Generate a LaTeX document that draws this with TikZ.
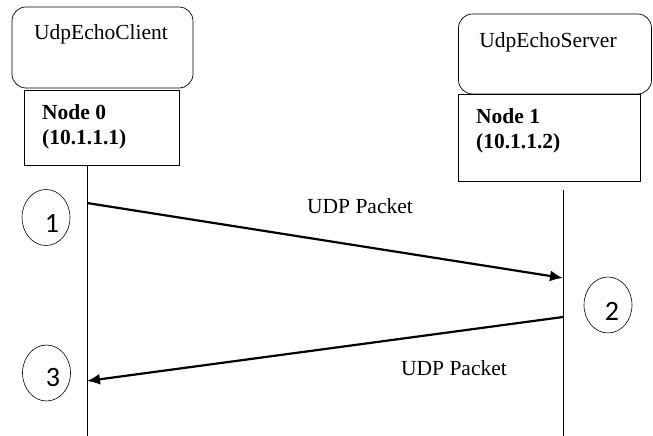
\documentclass[tikz,border=0pt]{standalone}
\usepackage{fontspec}
\setmainfont{Liberation Serif}
\newfontfamily\stepfont{Carlito}
\usetikzlibrary{arrows.meta,shapes.geometric}
\begin{document}
\begin{tikzpicture}[x=1pt,y=-1pt,
	appbox/.style={draw, line width=0.7pt, rounded corners=14pt},
	hostbox/.style={draw, line width=0.7pt},
	lbl/.style={font=\fontsize{21.5}{26}\selectfont},
	hostlbl/.style={font=\fontsize{21.5}{25.5}\selectfont\bfseries, align=left, anchor=north west, inner sep=0pt},
	stepmark/.style={draw, ellipse, line width=0.6pt, minimum width=48pt, minimum height=56pt, inner sep=0pt},
	msg/.style={line width=2.2pt, -{Latex[length=13pt,width=11pt]}}]
	\useasboundingbox (0,0) rectangle (653,436);
	
	\node[appbox, minimum width=181pt, minimum height=81pt] (client) at (102.5,47.5) {};
	\node[lbl] at (101,34) {UdpEchoClient};
	\node[hostbox, minimum width=155pt, minimum height=75pt] (node0) at (101.5,127.5) {};
	\node[hostlbl] at (42,104) {Node 0\\(10.1.1.1)};
	
	\node[appbox, minimum width=193pt, minimum height=80pt] (server) at (555,54) {};
	\node[lbl] at (548,42) {UdpEchoServer};
	\node[hostbox, minimum width=182pt, minimum height=87pt] (node1) at (549,137.5) {};
	\node[hostlbl] at (476,108) {Node 1\\(10.1.1.2)};
	
	\coordinate (c0) at (87,165);
	\coordinate (c1) at (87,436);
	\coordinate (s0) at (563,190);
	\coordinate (s1) at (563,436);
	\draw[line width=0.7pt] (c0) -- (c1);
	\draw[line width=0.7pt] (s0) -- (s1);
	
	\coordinate (out1) at (87,203);
	\coordinate (in1) at (563,278);
	\coordinate (out2) at (563,317);
	\coordinate (in2) at (87,381);
	\draw[msg] (out1) -- (in1);
	\draw[msg] (out2) -- (in2);
	\node[lbl] (req) at (360,206) {UDP Packet};
	\node[lbl] (rep) at (454,368) {UDP Packet};
	
	\node[stepmark] (s1m) at (46,217.5) {};
	\node[font=\stepfont\fontsize{28}{30}\selectfont] at (52,223) {1};
	\node[stepmark] (s2m) at (608,305) {};
	\node[font=\stepfont\fontsize{28}{30}\selectfont] at (612,311) {2};
	\node[stepmark] (s3m) at (46.5,373) {};
	\node[font=\stepfont\fontsize{28}{30}\selectfont] at (53,378) {3};
\end{tikzpicture}
\end{document}
